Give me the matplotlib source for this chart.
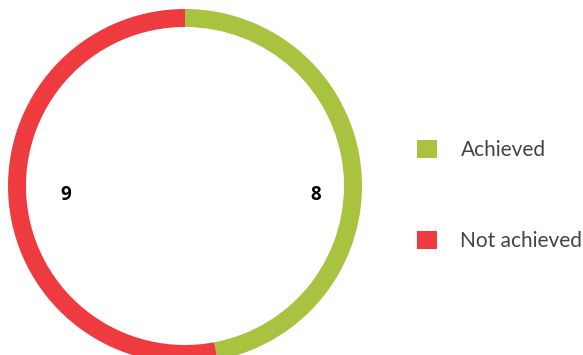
import matplotlib
matplotlib.use("Agg")
import matplotlib.pyplot as plt

labels = ["Achieved", "Not achieved"]
values = [8, 9]
colors = ["#a9c23f", "#ee3b40"]

W, H = 583, 355
fig = plt.figure(figsize=(W / 100, H / 100), dpi=100)
ax = fig.add_axes([0, 0, 1, 1])

cx, cy, R = 185, H - 186, 177
wedges, _ = ax.pie(values, colors=colors, startangle=90, counterclock=False,
                   center=(cx, cy), radius=R, frame=True,
                   wedgeprops=dict(width=18, linewidth=0))
ax.set_xlim(0, W)
ax.set_ylim(0, H)
ax.set_aspect("equal")
ax.axis("off")

# value labels, inside the ring at left / right
ax.text(cx + 131, cy - 9, str(values[0]), ha="center", va="center",
        fontsize=13.5, fontweight="bold", family="Open Sans", color="black")
ax.text(cx - 119, cy - 9, str(values[1]), ha="center", va="center",
        fontsize=13.5, fontweight="bold", family="Open Sans", color="black")

leg = ax.legend(wedges, labels, loc="upper left", bbox_to_anchor=(398 / W, 1 - 121 / H),
                frameon=False, handlelength=0.95, handleheight=0.95,
                handletextpad=1.15, labelspacing=3.4,
                prop=dict(family="Lato", size=15))
for t in leg.get_texts():
    t.set_color("#444444")

fig.savefig("out.png", dpi=100)
